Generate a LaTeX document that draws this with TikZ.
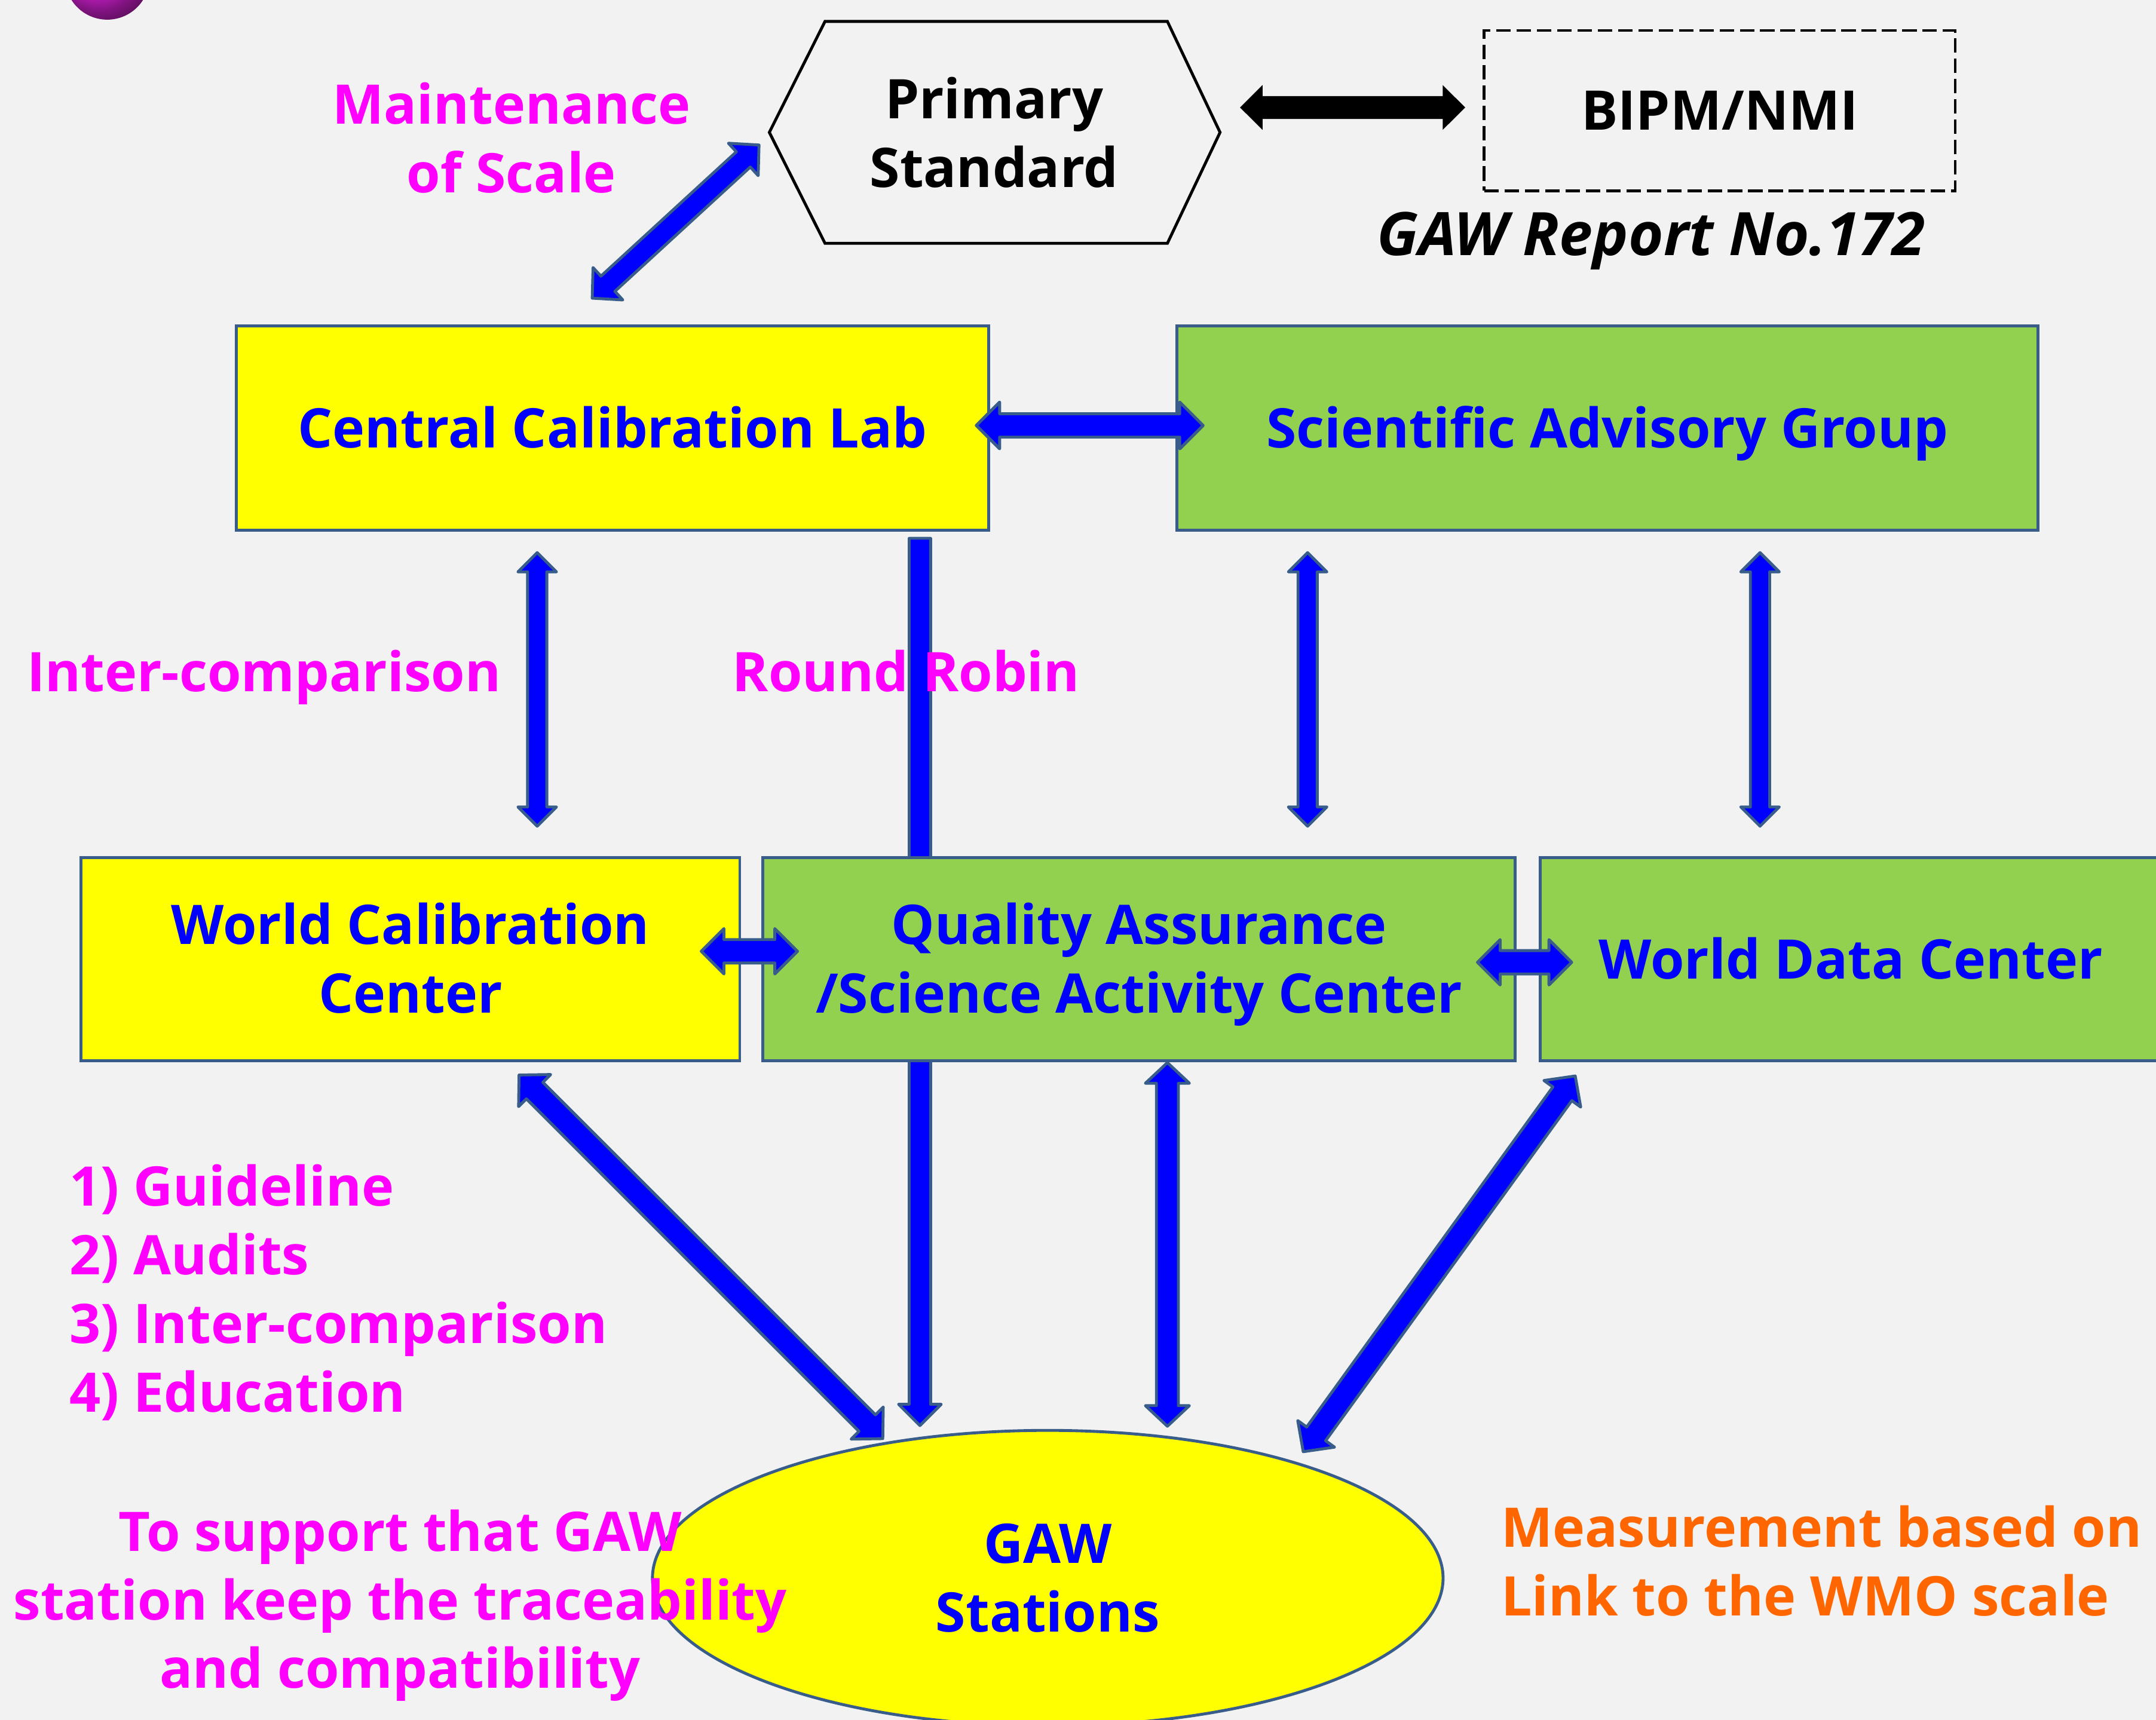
\documentclass[tikz,border=0pt]{standalone}
\usepackage{fontspec}
\setmainfont{Open Sans}
\usepackage{tikz}
\usetikzlibrary{calc,shapes.geometric}

\definecolor{bg}{HTML}{F2F2F2}
\definecolor{boxline}{HTML}{385D8A}
\definecolor{ylw}{RGB}{255,255,0}
\definecolor{lgreen}{HTML}{92D050}
\definecolor{arrblue}{HTML}{0000FF}
\definecolor{mag}{HTML}{FF00FF}
\definecolor{orng}{HTML}{FF6600}

% block arrow with two heads: from, to, shaft half width, head half width, head length
\newcommand{\dblarrow}[6][]{%
\coordinate (a1) at ($(#2)!#6!(#3)$);
\coordinate (b1) at ($(#3)!#6!(#2)$);
\filldraw[#1] (#2)
  -- ($(a1)!#5!90:(#3)$) -- ($(a1)!#4!90:(#3)$)
  -- ($(b1)!#4!-90:(#2)$) -- ($(b1)!#5!-90:(#2)$)
  -- (#3)
  -- ($(b1)!#5!90:(#2)$) -- ($(b1)!#4!90:(#2)$)
  -- ($(a1)!#4!-90:(#3)$) -- ($(a1)!#5!-90:(#3)$)
  -- cycle;}

% block arrow with one head at the second point
\newcommand{\oneArrow}[6][]{%
\coordinate (b1) at ($(#3)!#6!(#2)$);
\filldraw[#1] ($(#2)!#4!90:(#3)$)
  -- ($(b1)!#4!-90:(#2)$) -- ($(b1)!#5!-90:(#2)$)
  -- (#3)
  -- ($(b1)!#5!90:(#2)$) -- ($(b1)!#4!90:(#2)$)
  -- ($(#2)!#4!-90:(#3)$)
  -- cycle;}

\begin{document}
\begin{tikzpicture}[
  box/.style={draw=boxline, line width=0.6pt, text=arrblue, align=center, inner sep=0pt},
  blk/.style={fill=arrblue, draw=boxline, line width=0.6pt, line join=round},
  lbl/.style={text=mag, align=center},
  % text heights so that nodes centre on the capitals
  one/.style={text height=8.1pt, text depth=0pt},
  two/.style={text height=22.3pt, text depth=0pt},
  three/.style={text height=36.5pt, text depth=0pt},
  four/.style={text height=50.7pt, text depth=0pt},
  every node/.style={font=\fontsize{11.3}{14.2}\selectfont\bfseries}]

\useasboundingbox (0,0) rectangle (15.68,-12.51);
\clip (0,0) rectangle (15.68,-12.51);
\fill[bg] (0,0) rectangle (15.68,-12.51);

% ball in the corner
\shade[ball color=magenta!85!white] (0.78,0.165) circle (0.308);

% primary standard
\draw[line width=0.6pt, fill=bg] (5.595,-0.963) -- (6.00,-0.156) -- (8.49,-0.156) -- (8.873,-0.963) -- (8.49,-1.77) -- (6.00,-1.77) -- cycle;
\node[align=center, two] (ps) at (7.23,-0.97) {Primary\\Standard};
\node[draw, dashed, dash pattern=on 3pt off 1.2pt, line width=0.6pt, minimum width=3.425cm, minimum height=1.166cm, one] (bipm) at (12.507,-0.805) {BIPM/NMI};
\node[font=\fontsize{12.4}{14.2}\selectfont\bfseries\itshape, one] (rep) at (12.01,-1.717) {GAW Report No.172};
\coordinate (ps-r) at (9.018,-0.782);
\coordinate (bipm-l) at (10.656,-0.782);
\dblarrow[fill=black, draw=none]{ps-r}{bipm-l}{0.083cm}{0.163cm}{0.164cm}

\node[lbl, two] (maint) at (3.72,-1.01) {Maintenance\\of Scale};
\coordinate (m1) at (4.307,-2.169);
\coordinate (m2) at (5.52,-1.055);
\dblarrow[blk]{m1}{m2}{0.075cm}{0.16cm}{0.155cm}

% round robin goes behind the QA box
\coordinate (rr1) at (6.69,-3.916);
\coordinate (rr2) at (6.69,-10.37);
\oneArrow[blk]{rr1}{rr2}{0.078cm}{0.155cm}{0.155cm}

% boxes
\node[box, fill=ylw, minimum width=5.47cm, minimum height=1.488cm, one] (ccl) at (4.455,-3.114) {Central Calibration Lab};
\node[box, fill=lgreen, minimum width=6.26cm, minimum height=1.488cm, one] (sag) at (11.69,-3.114) {Scientific Advisory Group};
\node[box, fill=ylw, minimum width=4.79cm, minimum height=1.477cm, two] (wcc) at (2.985,-6.978) {World Calibration\\Center};
\node[box, fill=lgreen, minimum width=5.472cm, minimum height=1.477cm, two] (qa) at (8.284,-6.978) {Quality Assurance\\/Science Activity Center};
\node[box, fill=lgreen, minimum width=4.52cm, minimum height=1.477cm, one] (wdc) at (13.46,-6.978) {World Data Center};
\node[box, ellipse, fill=ylw, minimum width=5.75cm, minimum height=2.15cm, two] (gaw) at (7.62,-11.48) {GAW\\Stations};

% links
\coordinate (c1) at (7.10,-3.095);
\coordinate (c2) at (8.75,-3.095);
\dblarrow[blk]{c1}{c2}{0.085cm}{0.17cm}{0.17cm}
\coordinate (w1) at (5.10,-6.92);
\coordinate (w2) at (5.80,-6.92);
\dblarrow[blk]{w1}{w2}{0.085cm}{0.165cm}{0.165cm}
\coordinate (q1) at (10.745,-7.0);
\coordinate (q2) at (11.43,-7.0);
\dblarrow[blk]{q1}{q2}{0.085cm}{0.165cm}{0.165cm}

\foreach \x/\n in {3.907/ic, 9.51/s1, 12.80/s2}
{
\coordinate (\n-t) at (\x,-4.02);
\coordinate (\n-b) at (\x,-6.01);
\dblarrow[blk]{\n-t}{\n-b}{0.07cm}{0.14cm}{0.14cm}
}

\coordinate (g1) at (3.775,-7.82);
\coordinate (g2) at (6.42,-10.465);
\dblarrow[blk]{g1}{g2}{0.085cm}{0.165cm}{0.16cm}
\coordinate (g3) at (8.49,-7.73);
\coordinate (g4) at (8.49,-10.375);
\dblarrow[blk]{g3}{g4}{0.08cm}{0.16cm}{0.15cm}
\coordinate (g5) at (11.456,-7.827);
\coordinate (g6) at (9.478,-10.56);
\dblarrow[blk]{g5}{g6}{0.085cm}{0.165cm}{0.16cm}

% labels
\node[lbl, one] (ic) at (1.92,-4.89) {Inter-comparison};
\node[lbl, one] (rr) at (6.59,-4.89) {Round Robin};
\node[lbl, align=left, anchor=west, inner sep=0pt, four] (tasks) at (0.50,-9.38) {1) Guideline\\2) Audits\\3) Inter-comparison\\4) Education};
\node[lbl, three] (aim) at (2.91,-11.64) {To support that GAW\\station keep the traceability\\and compatibility};
\node[text=orng, align=left, anchor=west, inner sep=0pt, two] (wmo) at (10.91,-11.36) {Measurement based on\\Link to the WMO scale};

\end{tikzpicture}
\end{document}
